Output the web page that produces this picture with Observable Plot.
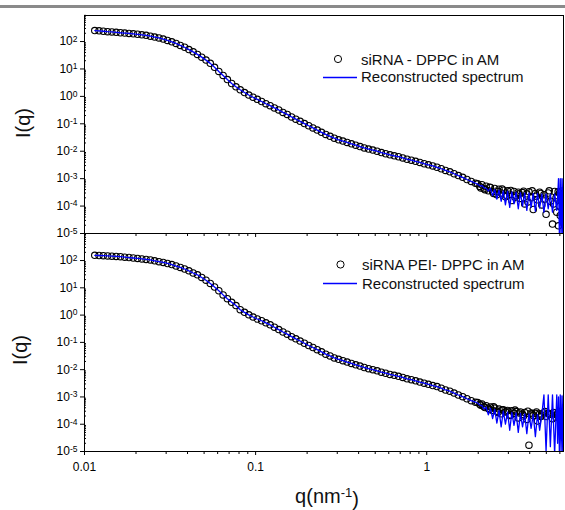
<!DOCTYPE html>
<html><head><meta charset="utf-8">
<script src="https://cdn.jsdelivr.net/npm/d3@7"></script>
<script src="https://cdn.jsdelivr.net/npm/@observablehq/plot@0.6"></script>
<style>
body{margin:0;background:#fff;}
#wrap{position:relative;width:565px;height:510px;overflow:hidden;background:#fff;font-family:"Liberation Sans",Arial,sans-serif;}
#wrap svg{position:absolute;left:0;top:0;}
#bar{position:absolute;left:0;top:5px;width:565px;height:3px;background:#8a8a8a;}
</style></head><body><div id="wrap"><div id="bar"></div></div>
<script>
// scattering vector q (nm^-1)
const q = [
0.01148,0.01216,0.01288,0.01365,0.01445,0.01531,0.01622,0.01718,0.01820,0.01928,
0.02042,0.02163,0.02291,0.02427,0.02570,0.02723,0.02884,0.03055,0.03236,0.03428,
0.03631,0.03846,0.04074,0.04315,0.04571,0.04842,0.05129,0.05433,0.05754,0.06095,
0.06457,0.06839,0.07244,0.07674,0.08128,0.08610,0.09120,0.09661,0.1023,0.1084,
0.1148,0.1216,0.1288,0.1365,0.1445,0.1531,0.1622,0.1718,0.1820,0.1928,
0.2042,0.2163,0.2291,0.2427,0.2570,0.2723,0.2884,0.3055,0.3236,0.3428,
0.3631,0.3846,0.4074,0.4315,0.4571,0.4842,0.5129,0.5433,0.5754,0.6095,
0.6457,0.6839,0.7244,0.7674,0.8128,0.8610,0.9120,0.9661,1.023,1.084,
1.148,1.216,1.288,1.365,1.445,1.531,1.622,1.718,1.820,1.928,
1.984,2.042,2.102,2.163,2.226,2.291,2.358,2.427,2.497,2.570,
2.645,2.723,2.802,2.884,2.968,3.055,3.144,3.236,3.331,3.428,
3.528,3.631,3.737,3.846,3.958,4.074,4.193,4.315,4.441,4.571,
4.705,4.842,4.983,5.129,5.279,5.433,5.592,5.754,
5.82,5.89,5.96,6.03,6.10,6.17,6.24,6.30];

// top panel: siRNA - DPPC in AM
const topData = [
251,245,237,229,224,216,209,204,197,191,
184,176,168,157,146,135,123,110,98,85,
72,62,51,42,34,27,21,16,11.5,8.1,
5.8,4.1,2.95,2.24,1.74,1.38,1.12,0.93,0.78,0.65,
0.54,0.46,0.38,0.32,0.26,0.22,0.178,0.148,0.123,0.102,
0.085,0.071,0.059,0.049,0.041,0.035,0.030,0.026,0.0234,0.0209,
0.0186,0.0166,0.0148,0.0132,0.0120,0.0110,0.0100,0.0089,0.0081,0.0074,
0.0068,0.0063,0.0057,0.0051,0.0047,0.0043,0.0039,0.0035,0.0032,0.0029,
0.0026,0.0023,0.0020,0.00178,0.00151,0.00129,0.00112,0.00093,0.00079,0.00068,
6.5e-4,5.2e-4,6.0e-4,4.3e-4,5.3e-4,3.6e-4,4.8e-4,3.3e-4,4.4e-4,2.6e-4,
4.1e-4,3.0e-4,3.8e-4,2.2e-4,3.6e-4,2.7e-4,1.6e-4,3.4e-4,2.4e-4,3.2e-4,
1.9e-4,3.1e-4,1.2e-4,2.8e-4,3.3e-4,2.0e-4,7.5e-5,2.9e-4,1.7e-4,3.2e-4,
1.1e-4,2.6e-4,5.0e-5,3.0e-4,1.5e-4,2.2e-5,3.4e-4,6.0e-5,
2.4e-4,1.9e-5,3.0e-4,4.5e-5,2.2e-4,1.4e-4,2.5e-5,2.8e-4];
const topFit = [
251,245,237,229,224,216,209,204,197,191,
184,176,168,157,146,135,123,110,98,85,
72,62,51,42,34,27,21,16,11.5,8.1,
5.8,4.1,2.95,2.24,1.74,1.38,1.12,0.93,0.78,0.65,
0.54,0.46,0.38,0.32,0.26,0.22,0.178,0.148,0.123,0.102,
0.085,0.071,0.059,0.049,0.041,0.035,0.030,0.026,0.0234,0.0209,
0.0186,0.0166,0.0148,0.0132,0.0120,0.0110,0.0100,0.0089,0.0081,0.0074,
0.0068,0.0063,0.0057,0.0051,0.0047,0.0043,0.0039,0.0035,0.0032,0.0029,
0.0026,0.0023,0.0020,0.00178,0.00151,0.00129,0.00112,0.00093,0.00079,0.00068,
6.3e-4,5.5e-4,5.6e-4,4.6e-4,4.4e-4,3.5e-4,4.4e-4,2.4e-4,4.0e-4,1.8e-4,
3.8e-4,1.5e-4,3.6e-4,1.1e-4,3.5e-4,9.0e-5,3.3e-4,1.2e-4,3.2e-4,8.0e-5,
3.1e-4,1.0e-4,3.0e-4,7.0e-5,3.0e-4,9.0e-5,2.9e-4,6.5e-5,2.9e-4,8.5e-5,
2.8e-4,6.0e-5,2.8e-4,8.0e-5,2.7e-4,6.0e-5,2.8e-4,7.0e-5,
2.0e-4,1.0e-3,8e-6,1.0e-3,8e-6,1.0e-3,8e-6,1.0e-3];

// bottom panel: siRNA PEI- DPPC in AM
const botData = [
155,153,151,148,145,141,138,133,129,124,
120,115,110,105,98,91,85,78,71,63,
56,49,42,35,30,24,19,14.5,10.7,7.8,
5.5,4.0,2.95,2.24,1.58,1.26,1.02,0.85,0.72,0.62,
0.52,0.44,0.36,0.295,0.24,0.20,0.162,0.135,0.112,0.093,
0.077,0.065,0.054,0.045,0.037,0.032,0.027,0.024,0.0213,0.0190,
0.0169,0.0151,0.0135,0.0120,0.0109,0.0100,0.0091,0.0081,0.0074,0.0067,
0.0062,0.0057,0.0052,0.0046,0.0043,0.0039,0.0035,0.0032,0.0029,0.0026,
0.0024,0.0021,0.0018,0.00162,0.00138,0.00118,0.00102,0.00086,0.00073,0.00064,
6.2e-4,5.4e-4,5.5e-4,4.4e-4,4.8e-4,3.8e-4,4.3e-4,3.2e-4,3.9e-4,3.0e-4,
3.6e-4,2.4e-4,3.4e-4,2.8e-4,3.2e-4,2.1e-4,3.1e-4,2.5e-4,2.9e-4,1.7e-4,
2.8e-4,2.3e-4,2.7e-4,1.5e-4,1.7e-5,2.6e-4,2.1e-4,2.5e-4,1.3e-4,2.4e-4,
2.2e-4,2.6e-4,1.9e-4,2.5e-4,2.3e-4,1.6e-4,2.6e-4,2.2e-4,
2.4e-4,1.8e-4,2.7e-4,2.1e-4,2.5e-4,1.5e-4,2.6e-4,2.3e-4];
const botFit = [
155,153,151,148,145,141,138,133,129,124,
120,115,110,105,98,91,85,78,71,63,
56,49,42,35,30,24,19,14.5,10.7,7.8,
5.5,4.0,2.95,2.24,1.58,1.26,1.02,0.85,0.72,0.62,
0.52,0.44,0.36,0.295,0.24,0.20,0.162,0.135,0.112,0.093,
0.077,0.065,0.054,0.045,0.037,0.032,0.027,0.024,0.0213,0.0190,
0.0169,0.0151,0.0135,0.0120,0.0109,0.0100,0.0091,0.0081,0.0074,0.0067,
0.0062,0.0057,0.0052,0.0046,0.0043,0.0039,0.0035,0.0032,0.0029,0.0026,
0.0024,0.0021,0.0018,0.00162,0.00138,0.00118,0.00102,0.00086,0.00073,0.00064,
6.0e-4,5.0e-4,4.8e-4,3.6e-4,4.2e-4,2.2e-4,3.8e-4,1.6e-4,3.5e-4,1.1e-4,
3.2e-4,8.0e-5,3.0e-4,1.0e-4,2.8e-4,6.0e-5,2.7e-4,9.0e-5,2.6e-4,5.0e-5,
2.5e-4,8.0e-5,2.4e-4,4.5e-5,2.4e-4,7.0e-5,2.3e-4,3.5e-5,2.3e-4,6.0e-5,
2.2e-4,1.2e-3,1.0e-5,1.2e-3,1.5e-5,1.2e-3,8e-6,1.2e-3,
2.0e-5,1.0e-3,8e-6,1.2e-3,1.0e-5,1.1e-3,8e-6,1.2e-3];

// additional scattered data points in the noisy high-q tail
const qTail = [2.07,2.19,2.33,2.46,2.61,2.76,2.92,3.10,3.28,3.47,3.68,3.90,4.13,4.38,4.64,4.91,5.20,5.51,5.70,5.86,6.00,6.13,6.27];
const topTail = [4.6e-4,3.9e-4,4.9e-4,2.9e-4,3.4e-4,4.2e-4,2.5e-4,3.7e-4,2.1e-4,2.8e-4,3.5e-4,1.4e-4,3.6e-4,2.3e-4,2.9e-4,1.8e-4,3.6e-4,1.2e-4,2.0e-4,3.3e-4,1.0e-4,3.5e-4,6.0e-5];
const botTail = [5.0e-4,4.1e-4,3.5e-4,4.4e-4,2.7e-4,3.3e-4,3.0e-4,2.2e-4,3.3e-4,2.6e-4,2.0e-4,3.0e-4,2.4e-4,2.8e-4,1.9e-4,2.9e-4,2.3e-4,2.7e-4,1.8e-4,2.5e-4,2.9e-4,2.0e-4,2.4e-4];

const yTicks = [1e-5,1e-4,1e-3,1e-2,1e-1,1,10,100];
const xMajor = [0.01,0.1,1];
const xMajorLabels = ["0.01","0.1","1"];
const minorMult = [2,3,4,5,6,7,8,9];
const xMinor = [0.01,0.1,1].flatMap(d => minorMult.map(m => +(d*m).toPrecision(3))).filter(v => v <= 6.3);
const yMinor = [1e-5,1e-4,1e-3,1e-2,1e-1,1,10,100].flatMap(d => minorMult.map(m => d*m));

const legendTop = ["siRNA - DPPC in AM", "Reconstructed spectrum"];
const legendBot = ["siRNA PEI- DPPC in AM", "Reconstructed spectrum"];

const FONT = "Liberation Sans, Arial, Helvetica, sans-serif";

function panel(data, fit, tail, yMax, marginTop, marginBottom, xLabels) {
  const rows = q.map((v, i) => ({q: v, I: data[i], F: fit[i]}));
  const extra = qTail.map((v, i) => ({q: v, I: tail[i]}));
  return Plot.plot({
    width: 565, height: 510,
    marginLeft: 84, marginRight: 2, marginTop, marginBottom,
    style: {background: "transparent", fontFamily: FONT, fontSize: "12px", color: "#000", overflow: "visible"},
    x: {type: "log", domain: [0.01, 6.3], axis: null},
    y: {type: "log", domain: [1e-5, yMax], axis: null},
    marks: [
      Plot.dot(rows, {x: "q", y: "I", r: 3.2, stroke: "#000", strokeWidth: 1.1, fill: "none", clip: true}),
      Plot.dot(extra, {x: "q", y: "I", r: 3.2, stroke: "#000", strokeWidth: 1.1, fill: "none", clip: true}),
      Plot.line(rows, {x: "q", y: "F", stroke: "#0000ff", strokeWidth: 1.3, clip: true}),
      Plot.frame({stroke: "#000", strokeWidth: 1}),
      Plot.axisY({ticks: yTicks, tickSize: 4, tickPadding: 3, fontSize: 12, label: null,
        tickFormat: d => "10^" + Math.round(Math.log10(d))}),
      Plot.axisY({ticks: yMinor, tickSize: -2, label: null, tickFormat: () => ""}),
      Plot.axisX({ticks: xMajor, tickSize: 4, tickPadding: 7, fontSize: 12, label: null,
        tickFormat: d => xLabels ? xMajorLabels[xMajor.indexOf(d)] : ""}),
      Plot.axisX({ticks: xMinor, tickSize: 3, label: null, tickFormat: () => ""})
    ]
  });
}

const wrap = document.getElementById("wrap");
const botSvg = panel(botData, botFit, botTail, 980, 233, 59, true);
const topSvg = panel(topData, topFit, topTail, 890, 15, 277, false);
wrap.appendChild(botSvg);
wrap.appendChild(topSvg);

// superscript exponents on y tick labels
for (const svg of [botSvg, topSvg]) {
  d3.select(svg).selectAll('g[aria-label="y-axis tick label"] text').each(function() {
    const t = this.textContent;
    if (!t.startsWith("10^")) return;
    const e = t.slice(3);
    const s = d3.select(this);
    s.text("10");
    s.append("tspan").attr("dy", "-0.42em").attr("font-size", "8.5px").text(e);
  });
}

function legend(svg, labels, cx, cy, tx, b1, b2, ly) {
  const g = d3.select(svg).append("g").attr("font-family", FONT).attr("font-size", 15)
    .attr("fill", "#111").attr("text-anchor", "start");
  g.append("circle").attr("cx", cx).attr("cy", cy).attr("r", 3.6).attr("fill", "none").attr("stroke", "#000").attr("stroke-width", 1);
  g.append("text").attr("x", tx).attr("y", b1).text(labels[0]);
  g.append("line").attr("x1", 323).attr("x2", 357).attr("y1", ly).attr("y2", ly).attr("stroke", "#0000ff").attr("stroke-width", 1.3);
  g.append("text").attr("x", tx).attr("y", b2).text(labels[1]);
}
legend(topSvg, legendTop, 338, 59, 361, 64.5, 82, 77.5);
legend(botSvg, legendBot, 340.5, 264.5, 362, 270, 289, 283.5);

function yTitle(svg, x, y) {
  d3.select(svg).append("text").attr("transform", `translate(${x},${y}) rotate(-90)`)
    .attr("text-anchor", "middle").attr("font-family", FONT).attr("font-size", 20).attr("fill", "#111").text("I(q)");
}
yTitle(topSvg, 30, 123);
yTitle(botSvg, 27, 350);

const xt = d3.select(botSvg).append("text").attr("x", 327).attr("y", 503).attr("text-anchor", "middle")
  .attr("font-family", FONT).attr("font-size", 20).attr("fill", "#111");
xt.append("tspan").text("q(nm");
xt.append("tspan").attr("dy", "-0.45em").attr("font-size", 13).text("-1");
xt.append("tspan").attr("dy", "0.45em").text(")");
</script></body></html>
